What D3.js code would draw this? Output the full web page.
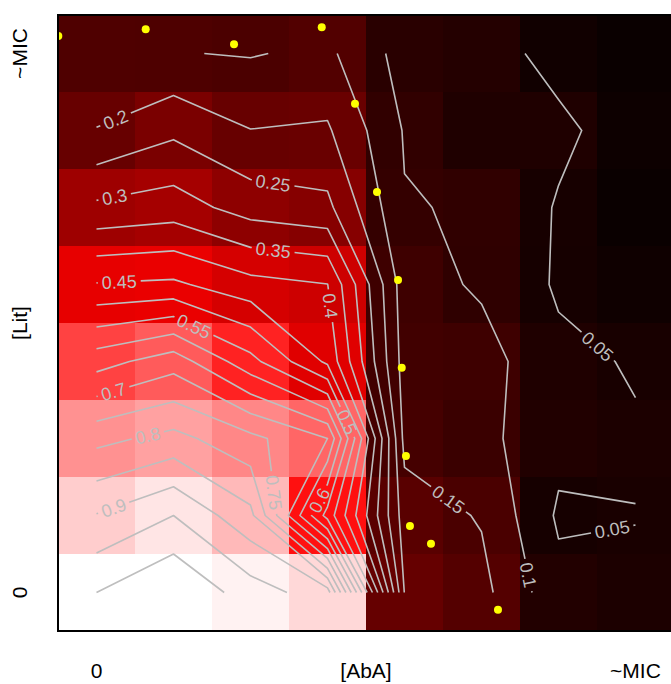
<!DOCTYPE html>
<html><head><meta charset="utf-8">
<script src="https://cdn.jsdelivr.net/npm/d3@7"></script>
<style>body{margin:0;background:#fff}svg{display:block}</style>
</head><body>
<svg id="chart" width="671" height="684"></svg>
<script>
// ---------------- data ----------------
// grid values, top row first (rows = [Lit] from ~MIC down to 0), columns = [AbA] from 0 to ~MIC
const row7 = [0.155, 0.152, 0.147, 0.160, 0.0806, 0.0708, 0.034, 0.020];
const row6 = [0.202, 0.240, 0.201, 0.206, 0.0964, 0.060, 0.0608, 0.025];
const row5 = [0.310, 0.324, 0.278, 0.262, 0.1028, 0.095, 0.0457, 0.020];
const row4 = [0.453, 0.459, 0.417, 0.401, 0.122, 0.093, 0.0440, 0.030];
const row3 = [0.629, 0.678, 0.567, 0.440, 0.128, 0.1207, 0.0608, 0.0461];
const row2 = [0.785, 0.816, 0.764, 0.700, 0.135, 0.1137, 0.0647, 0.0544];
const row1 = [0.9025, 0.950, 0.8635, 0.531, 0.175, 0.146, 0.043, 0.0492];
const row0 = [1.000, 1.050, 0.974, 0.9233, 0.198, 0.165, 0.066, 0.0557];
const gridRows = [row7, row6, row5, row4, row3, row2, row1, row0];

const contourLevels = d3.range(1, 21).map(k => k / 20);

// where the contour labels sit (level, column index, row index)
const labelLevels = [0.05, 0.05, 0.1, 0.15, 0.2, 0.25, 0.3, 0.35, 0.4, 0.45, 0.5, 0.55, 0.6, 0.7, 0.75, 0.8, 0.9];
const labelCol = [6.496, 6.695, 5.608, 4.548, 0.262, 2.290, 0.234, 2.290, 3.019, 0.295, 3.223, 1.266, 2.877, 0.218, 2.275, 0.673, 0.218];
const labelRow = [3.182, 0.834, 0.227, 1.179, 6.110, 5.292, 5.149, 4.409, 3.721, 4.036, 2.201, 3.461, 1.205, 2.619, 1.295, 2.013, 1.114];

// yellow points (grid units: column index, row index)
const dotX = [-0.496, 0.639, 1.786, 2.925, 3.357, 3.643, 3.916, 3.964, 4.019, 4.071, 4.344, 5.214];
const dotY = [7.227, 7.314, 7.119, 7.340, 6.348, 5.201, 4.058, 2.919, 1.773, 0.864, 0.634, -0.223];

const xTickLabels = ["0", "[AbA]", "~MIC"];
const xTickPos = [0, 3.5, 7];
const yTickLabels = ["0", "[Lit]", "~MIC"];
const yTickPos = [0, 3.5, 7];

// ---------------- setup ----------------
const FONT = "'Liberation Sans', Arial, Helvetica, sans-serif";
const nx = 8, ny = 8;
const Z = (i, j) => gridRows[ny - 1 - j][i];

const plotLeft = 58, plotTop = 15, cellSize = 77;
const x = d3.scaleLinear().domain([-0.5, nx - 0.5]).range([plotLeft, plotLeft + cellSize * nx]);
const y = d3.scaleLinear().domain([-0.5, ny - 0.5]).range([plotTop + cellSize * ny, plotTop]);
const color = d3.scaleLinear().domain([0, 0.5, 1]).range(["#000000", "#ff0000", "#ffffff"]).clamp(true);

const svg = d3.select("#chart");
const X0 = x(-0.5), X1 = x(nx - 0.5), Y0 = y(ny - 0.5), Y1 = y(-0.5);
svg.append("defs").append("clipPath").attr("id", "plotclip")
  .append("rect").attr("x", X0).attr("y", Y0).attr("width", X1 - X0).attr("height", Y1 - Y0);

const plot = svg.append("g").attr("clip-path", "url(#plotclip)");

// heatmap cells
const cells = [];
for (let i = 0; i < nx; i++) for (let j = 0; j < ny; j++) cells.push({i, j, v: Z(i, j)});
plot.append("g").selectAll("rect").data(cells).join("rect")
  .attr("x", d => x(d.i - 0.5)).attr("y", d => y(d.j + 0.5))
  .attr("width", d => x(d.i + 0.5) - x(d.i - 0.5))
  .attr("height", d => y(d.j - 0.5) - y(d.j + 0.5))
  .attr("fill", d => color(d.v)).attr("shape-rendering", "crispEdges");

// ---------------- marching squares (linear interpolation between cell centres) ----------------
function contourLines(L) {
  const segs = [];
  for (let i = 0; i < nx - 1; i++) for (let j = 0; j < ny - 1; j++) {
    const a = Z(i, j), b = Z(i + 1, j), c = Z(i + 1, j + 1), d = Z(i, j + 1);
    const A = a >= L, B = b >= L, C = c >= L, D = d >= L;
    const E = {};
    if (A !== B) E.bottom = {key: `h${i},${j}`, x: i + (L - a) / (b - a), y: j};
    if (B !== C) E.right = {key: `v${i + 1},${j}`, x: i + 1, y: j + (L - b) / (c - b)};
    if (D !== C) E.top = {key: `h${i},${j + 1}`, x: i + (L - d) / (c - d), y: j + 1};
    if (A !== D) E.left = {key: `v${i},${j}`, x: i, y: j + (L - a) / (d - a)};
    const ks = Object.keys(E);
    if (ks.length === 2) segs.push([E[ks[0]], E[ks[1]]]);
    else if (ks.length === 4) {
      const cin = (a + b + c + d) / 4 >= L;
      if (A === cin) { segs.push([E.bottom, E.right]); segs.push([E.top, E.left]); }
      else { segs.push([E.bottom, E.left]); segs.push([E.right, E.top]); }
    }
  }
  const byKey = new Map();
  segs.forEach((s, k) => s.forEach(p => { if (!byKey.has(p.key)) byKey.set(p.key, []); byKey.get(p.key).push(k); }));
  const used = new Array(segs.length).fill(false);
  const lines = [];
  function walk(startKey, segIdx) {
    const pts = [];
    let k = segIdx, key = startKey;
    const s0 = segs[k];
    pts.push(s0[0].key === key ? s0[0] : s0[1]);
    while (k !== undefined && !used[k]) {
      used[k] = true;
      const s = segs[k];
      const other = s[0].key === key ? s[1] : s[0];
      pts.push(other);
      key = other.key;
      k = (byKey.get(key) || []).find(q => !used[q]);
    }
    return pts;
  }
  for (const [key, list] of byKey) {
    if (list.length === 1 && !used[list[0]]) lines.push(walk(key, list[0]));
  }
  segs.forEach((s, k) => { if (!used[k]) lines.push(walk(s[0].key, k)); });
  return lines;
}

// ---------------- helpers ----------------
const LFS = 18;
const measurer = svg.append("text").attr("font-family", FONT).attr("font-size", LFS).attr("visibility", "hidden");
const textW = s => { measurer.text(s); return measurer.node().getComputedTextLength(); };
const fmt = v => String(+v.toFixed(2));

function pointAt(pts, cum, s) {
  let k = 0;
  while (k < cum.length - 2 && cum[k + 1] < s) k++;
  const t = (s - cum[k]) / (cum[k + 1] - cum[k] || 1);
  return [pts[k][0] + t * (pts[k + 1][0] - pts[k][0]), pts[k][1] + t * (pts[k + 1][1] - pts[k][1])];
}
function subPath(pts, cum, sa, sb) {
  const out = [pointAt(pts, cum, sa)];
  for (let k = 0; k < pts.length; k++) if (cum[k] > sa && cum[k] < sb) out.push(pts[k]);
  out.push(pointAt(pts, cum, sb));
  return out;
}
function nearest(pts, cum, px, py) {
  let best = {d: Infinity, s: 0};
  for (let k = 0; k < pts.length - 1; k++) {
    const ax = pts[k][0], ay = pts[k][1], bx = pts[k + 1][0], by = pts[k + 1][1];
    const len2 = (bx - ax) ** 2 + (by - ay) ** 2;
    let t = len2 ? ((px - ax) * (bx - ax) + (py - ay) * (by - ay)) / len2 : 0;
    t = Math.max(0, Math.min(1, t));
    const qx = ax + t * (bx - ax), qy = ay + t * (by - ay);
    const d = Math.hypot(px - qx, py - qy);
    if (d < best.d) best = {d, s: cum[k] + t * (cum[k + 1] - cum[k])};
  }
  return best;
}

const lineG = plot.append("g").attr("fill", "none").attr("stroke", "#bebebe")
  .attr("stroke-width", 1.6).attr("stroke-linejoin", "round");
const labelG = plot.append("g").attr("fill", "#bebebe").attr("font-family", FONT).attr("font-size", LFS);
const lineGen = d3.line();

contourLevels.forEach(L => {
  const lines = contourLines(L).map(raw => {
    const pts = raw.map(p => [x(p.x), y(p.y)]);
    const cum = [0];
    for (let k = 1; k < pts.length; k++) cum.push(cum[k - 1] + Math.hypot(pts[k][0] - pts[k - 1][0], pts[k][1] - pts[k - 1][1]));
    return {pts, cum, total: cum[cum.length - 1], gaps: []};
  });
  labelLevels.forEach((lv, n) => {
    if (Math.abs(lv - L) > 1e-9 || !lines.length) return;
    const hx = x(labelCol[n]), hy = y(labelRow[n]);
    let pick = null;
    lines.forEach(line => {
      const r = nearest(line.pts, line.cum, hx, hy);
      if (!pick || r.d < pick.r.d) pick = {line, r};
    });
    const {line, r} = pick;
    const txt = fmt(L), gap = textW(txt) + 8;
    const s0 = Math.max(0, Math.min(line.total - gap, r.s - gap / 2));
    const s1 = s0 + gap;
    const p0 = pointAt(line.pts, line.cum, s0), p1 = pointAt(line.pts, line.cum, s1);
    let ang = Math.atan2(p1[1] - p0[1], p1[0] - p0[0]);
    if (ang > Math.PI / 2) ang -= Math.PI;
    if (ang <= -Math.PI / 2) ang += Math.PI;
    const cx = (p0[0] + p1[0]) / 2, cy = (p0[1] + p1[1]) / 2;
    line.gaps.push([s0, s1]);
    labelG.append("text").attr("text-anchor", "middle").attr("dy", "0.36em")
      .attr("transform", `translate(${cx},${cy}) rotate(${ang * 180 / Math.PI})`)
      .text(txt);
  });
  lines.forEach(line => {
    const gaps = line.gaps.sort((a, b) => a[0] - b[0]);
    let s = 0;
    gaps.forEach(([a, b]) => { if (a > s) lineG.append("path").attr("d", lineGen(subPath(line.pts, line.cum, s, a))); s = b; });
    if (s < line.total) lineG.append("path").attr("d", lineGen(subPath(line.pts, line.cum, s, line.total)));
  });
});

// yellow points
plot.append("g").selectAll("circle").data(dotX.map((d, k) => [d, dotY[k]])).join("circle")
  .attr("cx", d => x(d[0])).attr("cy", d => y(d[1])).attr("r", 4).attr("fill", "#ffff00");

// frame
svg.append("rect").attr("x", X0).attr("y", Y0).attr("width", X1 - X0).attr("height", Y1 - Y0)
  .attr("fill", "none").attr("stroke", "#000").attr("stroke-width", 2);

// axis labels
const AFS = 21;
svg.append("g").selectAll("text").data(xTickLabels).join("text")
  .attr("x", (d, k) => x(xTickPos[k])).attr("y", 678)
  .attr("text-anchor", "middle").attr("font-family", FONT).attr("font-size", AFS).attr("fill", "#000")
  .text(d => d);
svg.append("g").selectAll("text").data(yTickLabels).join("text")
  .attr("transform", (d, k) => `translate(27,${y(yTickPos[k])}) rotate(-90)`)
  .attr("text-anchor", "middle").attr("font-family", FONT).attr("font-size", AFS).attr("fill", "#000")
  .text(d => d);
measurer.remove();
</script>
</body></html>
